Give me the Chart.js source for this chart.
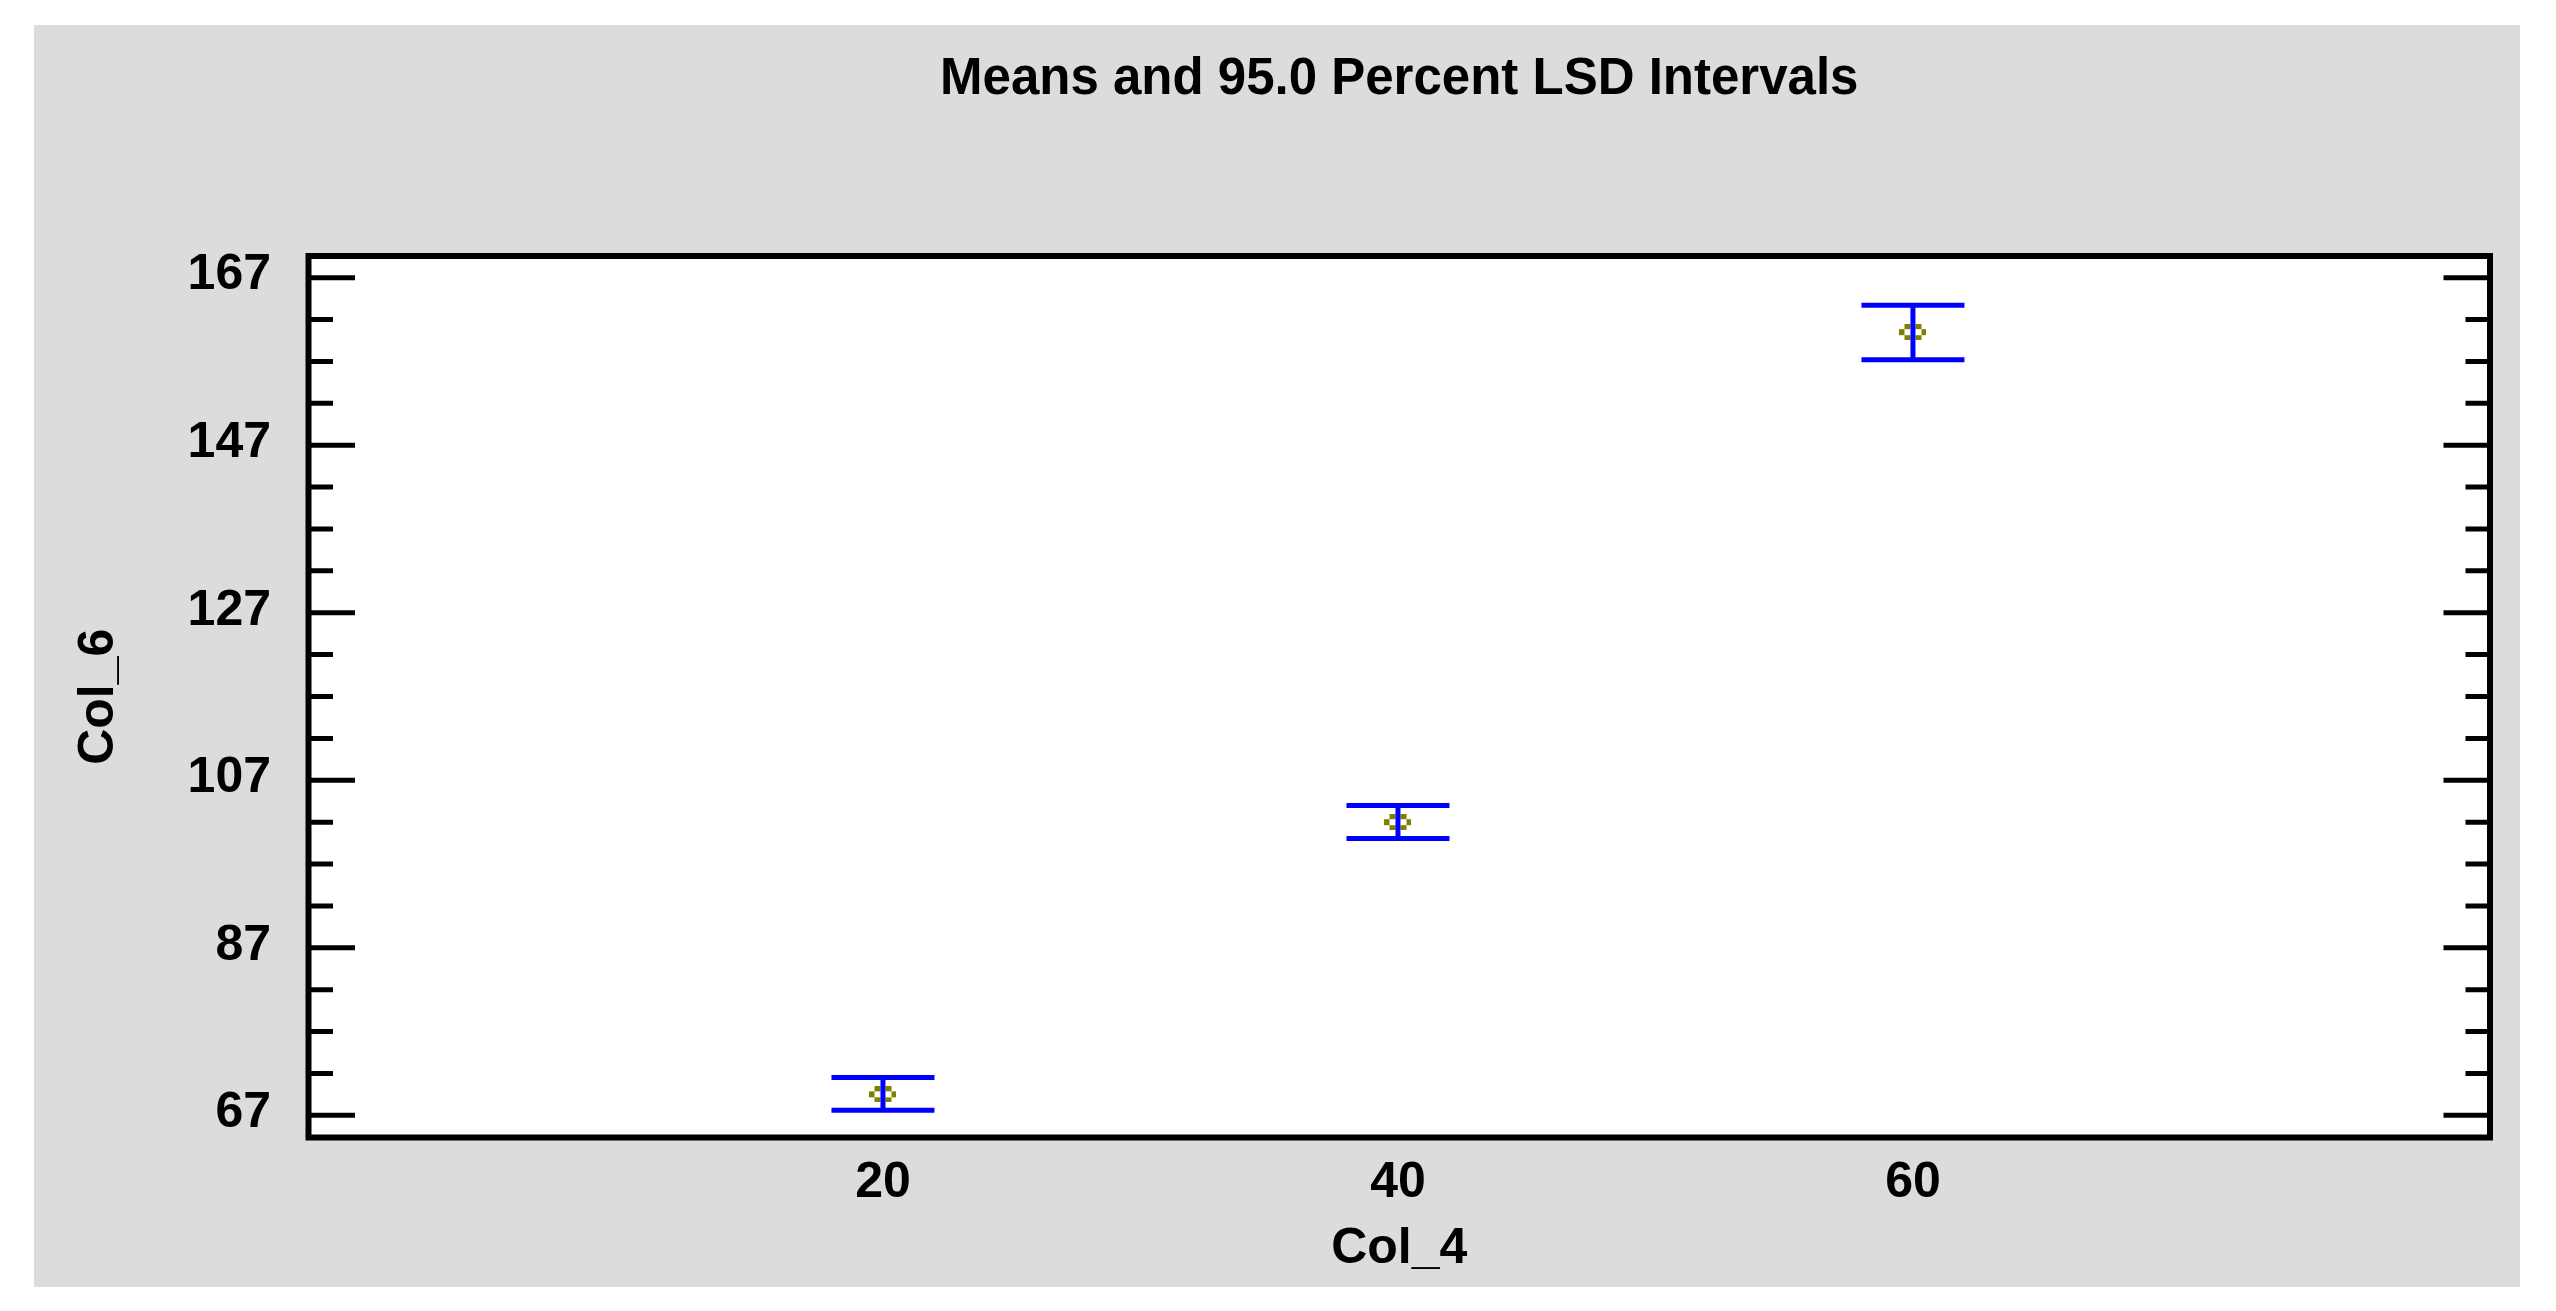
<!DOCTYPE html>
<html><head><meta charset="utf-8">
<script src="https://cdn.jsdelivr.net/npm/chart.js@4/dist/chart.umd.min.js"></script>
<style>
html,body{margin:0;padding:0;background:#fff;}
#wrap{position:absolute;left:34px;top:25px;width:2486px;height:1262px;background:#dcdcdc;}
canvas{display:block;}
</style></head><body>
<div id="wrap"><canvas id="c" width="2486" height="1262"></canvas></div>
<script>
// ---- data ----
const categories = [20, 40, 60];
const means = [69.5, 102.0, 160.5];
const lsdLower = [67.6, 100.05, 157.2];
const lsdUpper = [71.5, 104.0, 163.7];
const xTickLabels = [20, 40, 60];
const yTickLabels = [67, 87, 107, 127, 147, 167];
const yMinorStep = 5;
const titleText = 'Means and 95.0 Percent LSD Intervals';
const xTitle = 'Col_4';
const yTitle = 'Col_6';

// ---- styles ----
const FAMILY = "'Liberation Sans', Arial, sans-serif";
const BLUE = '#0000ff';
const OLIVE = '#808000';

function makeMarker(){
  const c = document.createElement('canvas');
  c.width = 27; c.height = 16;
  const g = c.getContext('2d');
  g.fillStyle = OLIVE;
  const bw = 27/5, bh = 16/3;
  [[1,0],[3,0],[0,1],[4,1],[1,2],[3,2]].forEach(([cx,cy]) => {
    const x0 = Math.round(cx*bw), x1 = Math.round((cx+1)*bw);
    const y0 = Math.round(cy*bh), y1 = Math.round((cy+1)*bh);
    g.fillRect(x0, y0, x1-x0, y1-y0);
  });
  return c;
}
const marker = makeMarker();

const frameTicks = {
  id: 'frameTicks',
  beforeDatasetsDraw(chart){
    const {ctx, chartArea: a} = chart;
    ctx.save();
    ctx.fillStyle = '#ffffff';
    ctx.fillRect(a.left, a.top, a.right - a.left, a.bottom - a.top);
    ctx.restore();
  },
  afterDraw(chart){
    const {ctx, chartArea: a, scales: {y}} = chart;
    ctx.save();
    ctx.strokeStyle = '#000';
    ctx.lineWidth = 5;
    y.ticks.forEach(t => {
      const py = y.getPixelForValue(t.value);
      const len = yTickLabels.includes(t.value) ? 46.5 : 24.5;
      ctx.beginPath();
      ctx.moveTo(a.left, py); ctx.lineTo(a.left + len, py);
      ctx.moveTo(a.right, py); ctx.lineTo(a.right - len, py);
      ctx.stroke();
    });
    ctx.lineWidth = 6;
    ctx.strokeRect(a.left, a.top, a.right - a.left, a.bottom - a.top);
    ctx.restore();
  }
};

const axisFont = {family: FAMILY, size: 50, weight: 'bold', lineHeight: 1.2};

new Chart(document.getElementById('c'), {
  type: 'scatter',
  data: {
    datasets: [
      {
        type: 'line',
        data: categories.flatMap((c, i) => [{x: c, y: lsdLower[i]}, {x: c, y: lsdUpper[i]}, {x: c, y: null}]),
        borderColor: BLUE, borderWidth: 5, pointRadius: 0, pointHoverRadius: 0,
        spanGaps: false, fill: false, order: 1
      },
      {
        data: categories.flatMap((c, i) => [{x: c, y: lsdLower[i]}, {x: c, y: lsdUpper[i]}]),
        pointStyle: 'line', pointRadius: 51.5, pointHoverRadius: 51.5,
        pointBorderColor: BLUE, pointBorderWidth: 5, pointHoverBorderWidth: 5,
        order: 2
      },
      {
        data: categories.map((c, i) => ({x: c, y: means[i]})),
        pointStyle: marker, pointRadius: 3, order: 3
      }
    ]
  },
  options: {
    responsive: false,
    animation: false,
    devicePixelRatio: 1,
    events: [],
    layout: {autoPadding: false, padding: {left: 0, right: 30, top: 0, bottom: 0}},
    plugins: {
      legend: {display: false},
      tooltip: {enabled: false},
      title: {
        display: true, text: titleText, fullSize: false, color: '#000',
        font: {family: FAMILY, size: 51, weight: 'bold', lineHeight: 1.2},
        padding: {top: 24.6, bottom: 145.2}
      }
    },
    scales: {
      x: {
        type: 'linear', min: -2.31, max: 82.41,
        afterBuildTicks: s => { s.ticks = xTickLabels.map(v => ({value: v})); },
        afterFit: s => { s.height = 149.5; s.paddingLeft = 0; s.paddingRight = 0; },
        grid: {display: false}, border: {display: false},
        ticks: {autoSkip: false, maxRotation: 0, minRotation: 0, padding: 7.5, color: '#000', font: axisFont,
                callback: v => String(v)},
        title: {display: true, text: xTitle, color: '#000', font: axisFont, padding: {top: 0, bottom: 8}}
      },
      y: {
        type: 'linear', min: 64.35, max: 169.59,
        afterBuildTicks: s => {
          const ts = [];
          for (let v = yTickLabels[0]; v <= yTickLabels[yTickLabels.length - 1]; v += yMinorStep) ts.push({value: v});
          s.ticks = ts;
        },
        afterFit: s => { s.width = 274.5; s.paddingTop = 0; s.paddingBottom = 0; },
        grid: {display: false}, border: {display: false},
        ticks: {autoSkip: false, padding: 29.5, labelOffset: -2, color: '#000', font: axisFont,
                callback: v => yTickLabels.includes(v) ? String(v) : ''},
        title: {display: true, text: yTitle, color: '#000', font: axisFont, padding: {top: 35, bottom: 0}}
      }
    }
  },
  plugins: [frameTicks]
});
</script>
</body></html>
